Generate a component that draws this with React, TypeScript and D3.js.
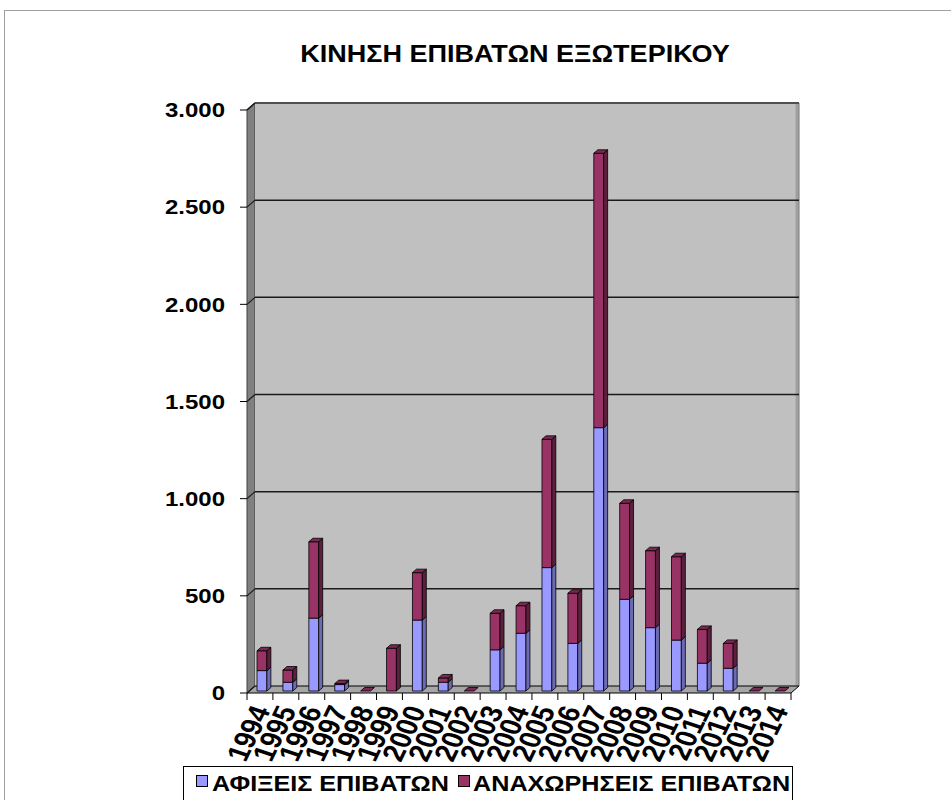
import * as d3 from "d3";

// Data
const years = [
  "1994", "1995", "1996", "1997", "1998", "1999", "2000", "2001", "2002", "2003", "2004",
  "2005", "2006", "2007", "2008", "2009", "2010", "2011", "2012", "2013", "2014"
];
const arrivals = [105, 45, 375, 33, 0, 0, 365, 45, 0, 212, 297, 635, 245, 1355, 472, 326, 262, 143, 117, 0, 0];
const departures = [102, 63, 393, 5, 0, 220, 244, 22, 0, 188, 142, 660, 258, 1412, 494, 396, 429, 174, 128, 0, 0];
const yTicks = [0, 500, 1000, 1500, 2000, 2500, 3000];
const seriesNames = ["ΑΦΙΞΕΙΣ ΕΠΙΒΑΤΩΝ", "ΑΝΑΧΩΡΗΣΕΙΣ ΕΠΙΒΑΤΩΝ"];

const FONT = "'Liberation Sans', Arial, sans-serif";
const SX = 1.2; // text looks horizontally stretched in the original

// 3D offsets
const wallDx = 8, wallDy = -7;
const barOffX = 2, barOffY = -2;
const barDx = 4, barDy = -3.5;

const colors = [
  { front: "#9999ff", side: "#6b6bb3", top: "#b8b8ff" },
  { front: "#993366", side: "#5c1f3d", top: "#7a2952" }
];

const fmt = (v: number) => d3.format(",")(v).replace(/,/g, ".");

export default function App() {
  const x = d3.scaleBand<string>().domain(years).range([247, 791]).padding(0);
  const y = d3.scaleLinear().domain([0, 3000]).range([693, 110]);
  const bw = x.bandwidth() * 0.38;

  const x0 = 247, x1 = 791, yb = y(0), yt = y(3000);

  const bars = years.map((yr, i) => {
    const cx = (x(yr) as number) + x.bandwidth() / 2 + barOffX;
    const left = cx - bw / 2;
    const segs = [
      { lo: 0, hi: arrivals[i], c: colors[0] },
      { lo: arrivals[i], hi: arrivals[i] + departures[i], c: colors[1] }
    ];
    const total = arrivals[i] + departures[i];
    const topC = departures[i] > 0 || total === 0 ? colors[1] : colors[0];
    const ty = y(total) + barOffY;
    return (
      <g key={yr} stroke="#000" strokeWidth={0.8} strokeLinejoin="round">
        {segs.filter(s => s.hi > s.lo).map((s, k) => {
          const ya = y(s.lo) + barOffY, yz = y(s.hi) + barOffY;
          return (
            <g key={k}>
              <rect x={left} y={yz} width={bw} height={ya - yz} fill={s.c.front} />
              <polygon
                points={`${left + bw},${ya} ${left + bw + barDx},${ya + barDy} ${left + bw + barDx},${yz + barDy} ${left + bw},${yz}`}
                fill={s.c.side}
              />
            </g>
          );
        })}
        <polygon
          points={`${left},${ty} ${left + bw},${ty} ${left + bw + barDx},${ty + barDy} ${left + barDx},${ty + barDy}`}
          fill={topC.top}
        />
      </g>
    );
  });

  return (
    <svg width={951} height={800} style={{ position: "absolute", left: 0, top: 0 }} fontFamily={FONT}>
      <rect x={0} y={0} width={951} height={800} fill="#fff" />
      <rect x={4.5} y={10.5} width={1000} height={1000} fill="none" stroke="#a0a0a0" />

      <text transform="translate(515,62) scale(1.15,1)" textAnchor="middle" fontWeight="bold" fontSize={23.5}>
        ΚΙΝΗΣΗ ΕΠΙΒΑΤΩΝ ΕΞΩΤΕΡΙΚΟΥ
      </text>

      {/* walls */}
      <polygon
        points={`${x0},${yb} ${x0 + wallDx},${yb + wallDy} ${x0 + wallDx},${yt + wallDy} ${x0},${yt}`}
        fill="#808080" stroke="#404040" strokeWidth={1}
      />
      <rect x={x0 + wallDx} y={yt + wallDy} width={x1 - x0} height={yb - yt} fill="#c0c0c0" />
      <line x1={x1 + wallDx - 2} x2={x1 + wallDx - 2} y1={yt + wallDy} y2={yb + wallDy} stroke="#a0a0a0" strokeWidth={3} />
      <line x1={x1 + wallDx} x2={x1 + wallDx} y1={yt + wallDy} y2={yb + wallDy} stroke="#707070" strokeWidth={1} />
      <line x1={x0 + wallDx} x2={x1 + wallDx} y1={yt + wallDy} y2={yt + wallDy} stroke="#505050" strokeWidth={2} />
      <line x1={x0} x2={x0 + wallDx} y1={yt} y2={yt + wallDy} stroke="#404040" strokeWidth={1.5} />

      {/* floor */}
      <polygon
        points={`${x0},${yb} ${x1},${yb} ${x1 + wallDx},${yb + wallDy} ${x0 + wallDx},${yb + wallDy}`}
        fill="#a6a6a6" stroke="#000" strokeWidth={1}
      />

      {/* gridlines + y axis */}
      {yTicks.map(t => (
        <g key={t}>
          {t > 0 && t < 3000 && (
            <line x1={x0 + wallDx} x2={x1 + wallDx} y1={y(t) + wallDy} y2={y(t) + wallDy} stroke="#1a1a1a" strokeWidth={1.5} />
          )}
          <line x1={x0} x2={x0 + wallDx} y1={y(t)} y2={y(t) + wallDy} stroke="#1a1a1a" strokeWidth={1.2} />
          <line x1={x0 - 7} x2={x0} y1={y(t)} y2={y(t)} stroke="#000" strokeWidth={1} />
          <text transform={`translate(225,${y(t)}) scale(${SX},1)`} dy="0.36em" textAnchor="end" fontWeight="bold" fontSize={20}>
            {fmt(t)}
          </text>
        </g>
      ))}

      {/* x ticks */}
      {[...years.map(yr => x(yr) as number), x1].map((tx, i) => (
        <line key={i} x1={tx} x2={tx} y1={yb} y2={yb + 7} stroke="#000" strokeWidth={1} />
      ))}

      {bars}

      {/* x labels */}
      {years.map(yr => {
        const cx = (x(yr) as number) + x.bandwidth() / 2;
        return (
          <text
            key={yr}
            transform={`translate(${cx + 1},${707}) scale(${SX},1) rotate(-68)`}
            textAnchor="end"
            dy="0.35em"
            fontWeight="bold"
            fontSize={25.5}
          >
            {yr}
          </text>
        );
      })}

      {/* legend */}
      <rect x={183.5} y={766.5} width={609} height={50} fill="#fff" stroke="#000" strokeWidth={1} />
      <rect x={196.5} y={775.5} width={11} height={11} fill={colors[0].front} stroke="#000" />
      <text transform={`translate(212,791) scale(1.12,1)`} fontWeight="bold" fontSize={22.5}>{seriesNames[0]}</text>
      <rect x={458.5} y={775.5} width={11} height={11} fill={colors[1].front} stroke="#000" />
      <text transform={`translate(473,791) scale(1.12,1)`} fontWeight="bold" fontSize={22.5}>{seriesNames[1]}</text>
    </svg>
  );
}
